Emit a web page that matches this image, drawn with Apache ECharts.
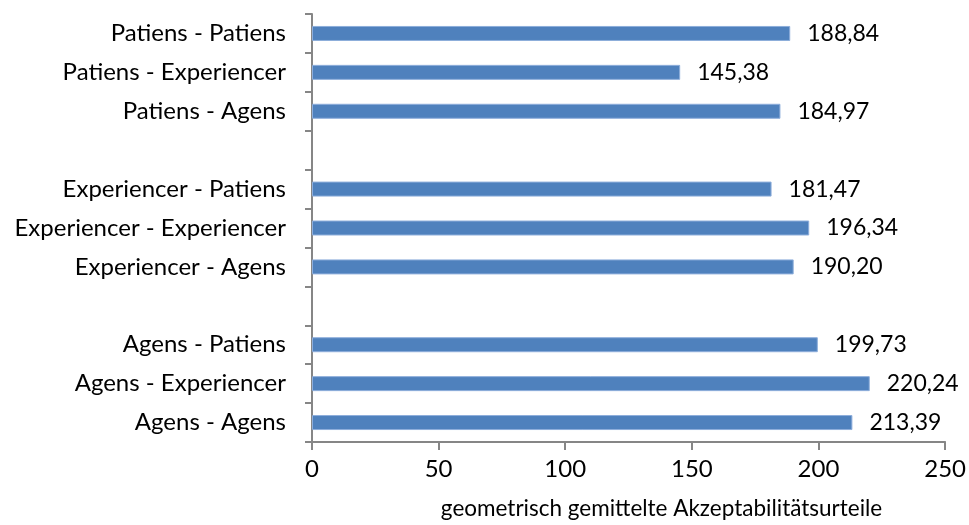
<!DOCTYPE html>
<html>
<head>
<meta charset="utf-8">
<script src="https://cdn.jsdelivr.net/npm/echarts@6/dist/echarts.min.js"></script>
<style>
    html, body { margin: 0; padding: 0; background: #fff; }
    #chart { width: 969px; height: 525px; }
</style>
</head>
<body>
<div id="chart"></div>
<script>
// bottom to top, empty strings are the gaps between groups
const categories = [
    'Agens - Agens',
    'Agens - Experiencer',
    'Agens - Patiens',
    '',
    'Experiencer - Agens',
    'Experiencer - Experiencer',
    'Experiencer - Patiens',
    ' ',
    'Patiens - Agens',
    'Patiens - Experiencer',
    'Patiens - Patiens',
];
const values = [213.39, 220.24, 199.73, null, 190.20, 196.34, 181.47, null, 184.97, 145.38, 188.84];
const axisName = 'geometrisch gemittelte Akzeptabilitätsurteile';

const font = 'Lato, sans-serif';
const axisGrey = '#868686';

const chart = echarts.init(document.getElementById('chart'));

const option = {
    animation: false,
    grid: { left: 312, right: 21, top: 14, bottom: 83 },
    xAxis: {
        type: 'value',
        min: 0,
        max: 250,
        interval: 50,
        splitLine: { show: false },
        axisLine: { show: true, lineStyle: { color: axisGrey, width: 2 } },
        axisTick: { show: true, length: 8, lineStyle: { color: axisGrey, width: 2 } },
        axisLabel: { color: '#000', fontSize: 24, fontFamily: font, margin: 15 },
        name: axisName,
        nameLocation: 'middle',
        nameGap: 55,
        nameTextStyle: { color: '#000', fontSize: 22.5, fontFamily: font, padding: [0, 0, 0, 66] },
    },
    yAxis: {
        type: 'category',
        data: categories,
        axisLine: { show: true, lineStyle: { color: axisGrey, width: 2 } },
        axisTick: { show: true, length: 7, alignWithLabel: false, lineStyle: { color: axisGrey, width: 2 } },
        axisLabel: { color: '#000', fontSize: 24, fontFamily: font, margin: 26, interval: 0 },
        splitLine: { show: false },
    },
    series: [
        {
            type: 'bar',
            data: values,
            barWidth: 15,
            itemStyle: { color: '#4F81BD', borderColor: '#8EAEDB', borderWidth: 1 },
            label: {
                show: true,
                position: 'right',
                distance: 17,
                color: '#000',
                fontSize: 23,
                fontFamily: font,
                formatter: (p) => p.value.toFixed(2).replace('.', ','),
            },
        },
    ],
};

chart.setOption(option);
</script>
</body>
</html>
